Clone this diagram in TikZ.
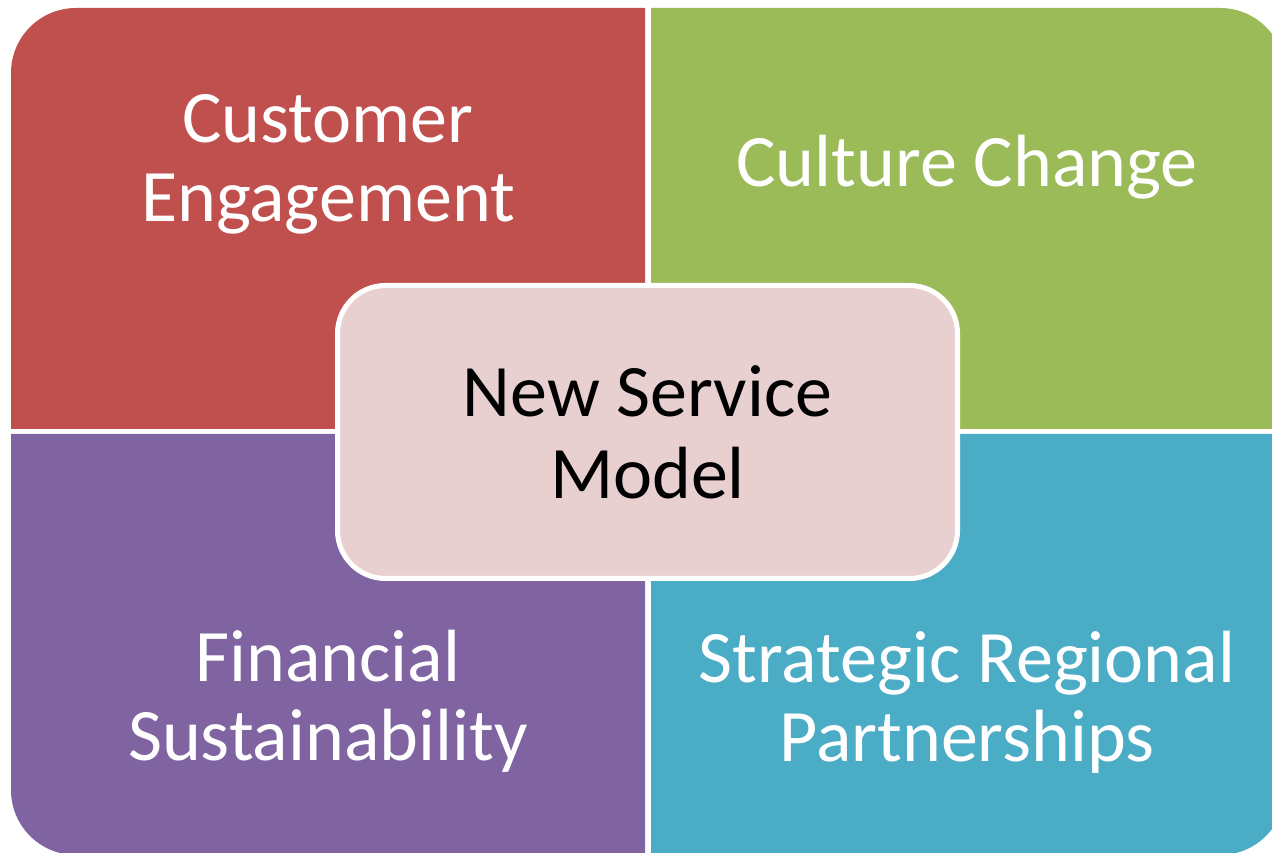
\documentclass[tikz,border=0pt]{standalone}
\usepackage{fontspec}
\setmainfont{Carlito}
\definecolor{cRed}{HTML}{C0504D}
\definecolor{cGreen}{HTML}{9BBB59}
\definecolor{cPurple}{HTML}{8064A2}
\definecolor{cBlue}{HTML}{4BACC6}
\definecolor{cCenter}{HTML}{E8D0D1}
\begin{document}
\begin{tikzpicture}[x=1pt,y=1pt,
  quadtext/.style={text=white,align=center,anchor=base,inner sep=0pt,
    font=\fontsize{74}{79}\selectfont},
  hub/.style={draw=white,line width=5pt,fill=cCenter,rounded corners=48pt,
    minimum width=620pt,minimum height=293pt,align=center,text=black,
    font=\fontsize{74}{82}\selectfont}]
\useasboundingbox (0,0) rectangle (1272,852);
\clip (0,0) rectangle (1272,852);
% four quadrants, each rounded on its outer corner
\fill[cRed] (11,423) -- (11,779) arc[start angle=180,end angle=90,radius=65pt]
  -- (645,844) -- (645,423) -- cycle;
\fill[cGreen] (651,423) -- (651,844) -- (1220,844)
  arc[start angle=90,end angle=0,radius=65pt] -- (1285,423) -- cycle;
\fill[cPurple] (11,418) -- (645,418) -- (645,-3) -- (76,-3)
  arc[start angle=270,end angle=180,radius=65pt] -- cycle;
\fill[cBlue] (651,418) -- (1285,418) -- (1285,62)
  arc[start angle=0,end angle=-90,radius=65pt] -- (651,-3) -- cycle;
% quadrant labels (anchored on the last line's baseline)
\node[quadtext] (engage) at (328,630) {Customer\\Engagement};
\node[quadtext] (culture) at (967,665) {Culture Change};
\node[quadtext] (finance) at (328,92) {Financial\\Sustainability};
\node[quadtext] (region) at (967,91) {Strategic Regional\\Partnerships};
% central hub
\node[hub] (hubbox) at (647.5,420) {New Service\\Model};
\end{tikzpicture}
\end{document}
